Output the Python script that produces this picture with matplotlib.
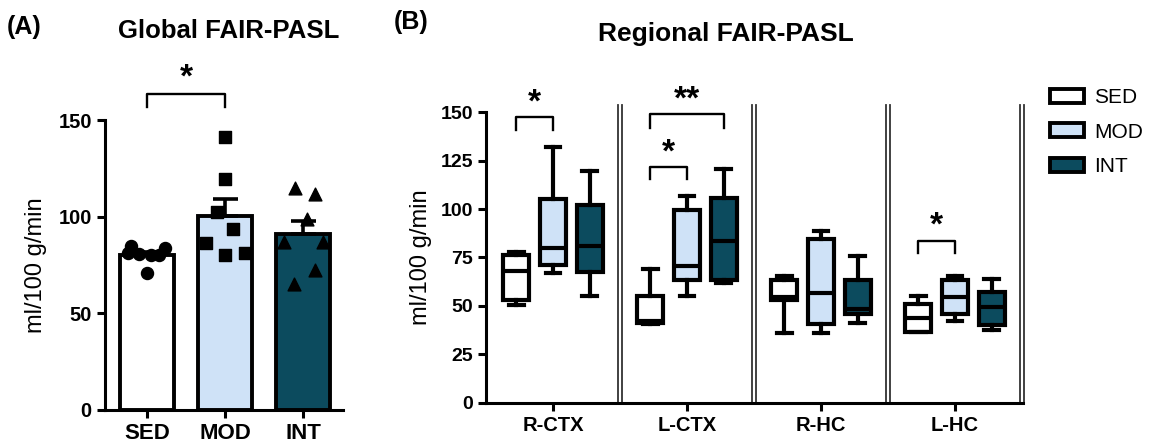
import numpy as np
import matplotlib
matplotlib.use("Agg")
import matplotlib.pyplot as plt
from matplotlib.patches import Patch

plt.rcParams['font.family'] = ['Liberation Sans', 'DejaVu Sans']

groups = ['SED', 'MOD', 'INT']
colors = ['#ffffff', '#cfe2f7', '#0c4b5e']

# panel A: individual animals
sed_pts = [85, 84, 80.5, 80, 80, 81, 71]
mod_pts = [141.4, 119.3, 102.6, 93.5, 86.2, 80.2, 81]
int_pts = [114.7, 111.7, 98.6, 87, 87, 72.4, 65]
sed_x = [-0.2, 0.23, -0.1, 0.05, 0.15, -0.25, 0.0]
mod_x = [0.0, 0.0, -0.1, 0.1, -0.25, 0.0, 0.25]
int_x = [-0.1, 0.15, 0.05, -0.25, 0.25, 0.15, -0.12]

# panel B: box stats (min, q1, median, q3, max)
regions = ['R-CTX', 'L-CTX', 'R-HC', 'L-HC']
box_sed = [(50.5, 53, 68, 76.5, 78), (40.5, 41, 42, 55, 69),
           (36, 53, 54.6, 63.5, 65.5), (36.5, 36.5, 43.9, 51.2, 55)]
box_mod = [(67, 71, 79.7, 105, 132), (55, 63.5, 70.5, 99.5, 107),
           (36, 40.5, 56.8, 84.5, 88.7), (42, 45.6, 54.8, 63.2, 65.4)]
box_int = [(55, 67.7, 81, 102, 119.5), (61.6, 63.5, 83.5, 105.5, 120.5),
           (41, 45.6, 48.5, 63.5, 76), (37.5, 40, 49.6, 57.3, 63.7)]

fig = plt.figure(figsize=(11.61, 4.44), dpi=100)

# ---------- panel A ----------
ax = fig.add_axes([0.0904, 0.0766, 0.205, 0.6531])
pts = [sed_pts, mod_pts, int_pts]
means = [np.mean(p) for p in pts]
sems = [np.std(p, ddof=1) / np.sqrt(len(p)) for p in pts]
ind = np.arange(3)
ax.bar(ind, means, 0.70, color=colors, edgecolor='black', linewidth=2.8, zorder=1)
for i in range(3):
    ax.errorbar(ind[i], means[i], yerr=[[0], [sems[i]]], color='black',
                capsize=9, elinewidth=2.6, capthick=2.6, zorder=3)
ax.scatter(ind[0] + np.array(sed_x), sed_pts, marker='o', s=75, color='black', zorder=4)
ax.scatter(ind[1] + np.array(mod_x), mod_pts, marker='s', s=75, color='black', zorder=4)
ax.scatter(ind[2] + np.array(int_x), int_pts, marker='^', s=85, color='black', zorder=4)

ax.set_xlim(-0.54, 2.51)
ax.set_ylim(0, 150)
ax.set_yticks([0, 50, 100, 150])
ax.set_xticks(ind)
ax.set_xticklabels(groups, fontsize=16, fontweight='bold')
for lab in ax.get_yticklabels():
    lab.set_fontsize(14.5)
    lab.set_fontweight('bold')
ax.set_ylabel('ml/100 g/min', fontsize=17, labelpad=8)
for s in ['top', 'right']:
    ax.spines[s].set_visible(False)
for s in ['left', 'bottom']:
    ax.spines[s].set_linewidth(2.2)
ax.tick_params(width=2.2, length=6)

# significance SED vs MOD
ax.plot([0, 0, 1, 1], [156.6, 163.3, 163.3, 156.6], color='black', lw=1.7, clip_on=False)
ax.text(0.5, 163.5, '*', ha='center', va='bottom', fontsize=24, fontweight='bold')

fig.text(0.006, 0.94, '(A)', fontsize=18, fontweight='bold', va='center')
fig.text(0.197, 0.93, 'Global FAIR-PASL', fontsize=18.5, fontweight='bold', ha='center', va='center')

# ---------- panel B ----------
bx = fig.add_axes([0.4186, 0.0930, 0.4625, 0.6541])
offs = [-0.275, 0.0, 0.275]
for k, data in enumerate([box_sed, box_mod, box_int]):
    stats = []
    for (mn, q1, md, q3, mx) in data:
        stats.append(dict(whislo=mn, q1=q1, med=md, q3=q3, whishi=mx, fliers=[]))
    pos = np.arange(len(regions)) + offs[k]
    bx.bxp(stats, positions=pos, widths=0.19, patch_artist=True, showfliers=False,
           boxprops=dict(facecolor=colors[k], edgecolor='black', linewidth=3),
           medianprops=dict(color='black', linewidth=3),
           whiskerprops=dict(color='black', linewidth=3),
           capprops=dict(color='black', linewidth=3), capwidths=0.11,
           manage_ticks=False)

# double separator lines between regions
for xs in [0.5, 1.5, 2.5, 3.5]:
    for d in [-0.017, 0.017]:
        bx.plot([xs + d, xs + d], [0, 154], color='#333333', lw=1.3, clip_on=False)

bx.set_xlim(-0.5, 3.507)
bx.set_ylim(0, 150)
bx.set_yticks([0, 25, 50, 75, 100, 125, 150])
bx.set_xticks(np.arange(len(regions)))
bx.set_xticklabels(regions, fontsize=14.5, fontweight='bold')
for lab in bx.get_yticklabels():
    lab.set_fontsize(14)
    lab.set_fontweight('bold')
bx.set_ylabel('ml/100 g/min', fontsize=17, labelpad=6)
for s in ['top', 'right']:
    bx.spines[s].set_visible(False)
for s in ['left', 'bottom']:
    bx.spines[s].set_linewidth(2.2)
bx.tick_params(width=2.2, length=6)

def bracket(x1, x2, y0, y1, txt):
    bx.plot([x1, x1, x2, x2], [y0, y1, y1, y0], color='black', lw=1.7, clip_on=False)
    bx.text((x1 + x2) / 2, y1 - 0.5, txt, ha='center', va='bottom', fontsize=24,
            fontweight='bold')

bracket(0 - 0.275, 0, 140.8, 147.4, '*')
bracket(1 - 0.275, 1 + 0.275, 142, 149, '**')
bracket(1 - 0.275, 1, 115.4, 121.6, '*')
bracket(3 - 0.275, 3, 77.5, 83.5, '*')

fig.text(0.339, 0.95, '(B)', fontsize=18, fontweight='bold', va='center')
fig.text(0.625, 0.923, 'Regional FAIR-PASL', fontsize=19, fontweight='bold', ha='center', va='center')

handles = [Patch(facecolor=c, edgecolor='black', linewidth=2.8) for c in colors]
fig.legend(handles, groups, loc='upper left', bbox_to_anchor=(0.894, 0.83), frameon=False,
           fontsize=15, handlelength=1.6, handleheight=0.65, labelspacing=0.75,
           handletextpad=0.5, borderaxespad=0.2)

fig.savefig('out.png', dpi=100)
